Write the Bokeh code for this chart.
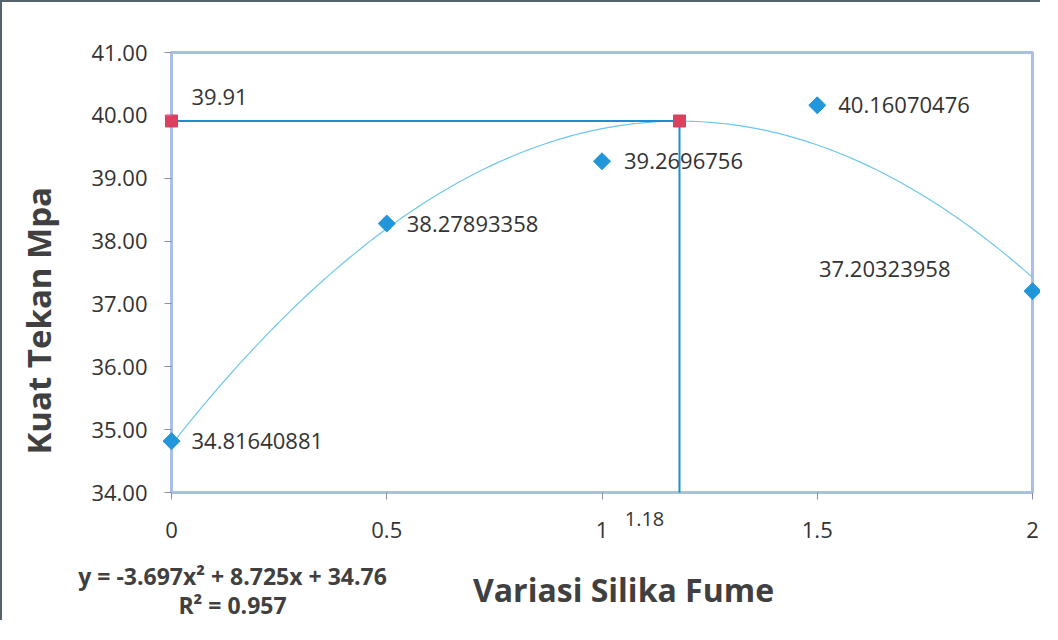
import numpy as np
from bokeh.plotting import figure
from bokeh.models import (Range1d, FixedTicker, PrintfTickFormatter, CustomJSTickFormatter,
                          ColumnDataSource, LabelSet, Label)
from bokeh.core.properties import value
from bokeh.embed import file_html
from bokeh.resources import INLINE

# ---- data ----
silika = [0, 0.5, 1, 1.5, 2]
kuat = [34.81640881, 38.27893358, 39.2696756, 40.16070476, 37.20323958]
kuat_labels = ["34.81640881", "38.27893358", "39.2696756", "40.16070476", "37.20323958"]
opt_x = [0, 1.18, 1.18]
opt_y = [39.91, 39.91, 34.0]
opt_marker_x = [0, 1.18]
opt_marker_y = [39.91, 39.91]
opt_labels = ["39.91", "1.18"]
coef = [-3.697, 8.725, 34.76]
x_ticks = [0, 0.5, 1, 1.5, 2]
y_ticks = [34, 35, 36, 37, 38, 39, 40, 41]
eq_text = "y = -3.697x\u00b2 + 8.725x + 34.76"
r2_text = "R\u00b2 = 0.957"
x_title = "Variasi Silika Fume"
y_title = "Kuat  Tekan Mpa"

FONT = "Open Sans"
TXT = "#333333"
TITLE = "#404040"

# ---- layout (pixels) ----
W, H = 1040, 620
BOX_L, BOX_R, BOX_T, BOX_B = 169, 1030, 50, 490
xs = (BOX_R - BOX_L) / (x_ticks[-1] - x_ticks[0])
ys = (BOX_B - BOX_T) / (y_ticks[-1] - y_ticks[0])
x_range = Range1d(x_ticks[0] - BOX_L / xs, x_ticks[-1] + (W - BOX_R) / xs)
y_range = Range1d(y_ticks[0] - (H - BOX_B) / ys, y_ticks[-1] + BOX_T / ys)

p = figure(width=W, height=H, output_backend="svg", toolbar_location=None,
           x_range=x_range, y_range=y_range,
           min_border=0)
p.title.visible = False
p.outline_line_color = None
p.grid.visible = False
p.background_fill_color = "white"
p.border_fill_color = "white"
p.styles = {"border-top": "2px solid #56626e", "border-left": "2px solid #56626e"}

# axes, pinned to the plot-area box
p.yaxis.fixed_location = x_ticks[0]
p.yaxis.ticker = FixedTicker(ticks=y_ticks)
p.yaxis.formatter = PrintfTickFormatter(format="%.2f")
p.yaxis.axis_line_color = None
p.yaxis.major_tick_out = 7
p.yaxis.major_tick_in = 0
p.yaxis.major_tick_line_color = "#8c8ca8"
p.yaxis.minor_tick_line_color = None
p.yaxis.major_label_standoff = 17

p.xaxis.fixed_location = y_ticks[0]
p.xaxis.ticker = FixedTicker(ticks=x_ticks)
p.xaxis.formatter = CustomJSTickFormatter(code="return tick.toString();")
p.xaxis.axis_line_color = None
p.xaxis.major_tick_out = 7
p.xaxis.major_tick_in = 0
p.xaxis.major_tick_line_color = "#8c8ca8"
p.xaxis.minor_tick_line_color = None
p.xaxis.major_label_standoff = 22

for ax in (p.xaxis, p.yaxis):
    ax.major_label_text_font = FONT
    ax.major_label_text_font_size = "22px"
    ax.major_label_text_color = TXT

# plot-area box
p.quad(left=[x_ticks[0]], right=[x_ticks[-1]], bottom=[y_ticks[0]], top=[y_ticks[-1]],
       fill_color=None, line_color="#a9bfe8", line_width=3)

# trendline from printed equation
xt = np.linspace(silika[0], silika[-1], 201)
yt = coef[0] * xt**2 + coef[1] * xt + coef[2]
p.line(xt, yt, line_color="#6cc6ee", line_width=1.2)

# optimum lines
p.line(opt_x, opt_y, line_color="#1b8fd2", line_width=2)
p.scatter(opt_marker_x, opt_marker_y, marker="square", size=12,
          fill_color="#d9415f", line_color="#d9415f")

# data points
p.scatter(silika, kuat, marker="square", angle=np.pi / 4, size=12,
          fill_color="#2196da", line_color="#2196da")

src = ColumnDataSource(dict(x=silika, y=kuat, t=kuat_labels,
                            xo=[20, 20, 22, 21, -82], yo=[0, 0, 0, 0, 22],
                            al=["left", "left", "left", "left", "right"]))
p.add_layout(LabelSet(x="x", y="y", text="t", source=src, x_offset="xo", y_offset="yo",
                      text_align="al", text_baseline="middle", text_font=value(FONT),
                      text_font_size="22px", text_color=TXT))

p.add_layout(Label(x=opt_marker_x[0], y=opt_marker_y[0], text=opt_labels[0], x_offset=20, y_offset=24,
                   text_align="left", text_baseline="middle", text_font=FONT,
                   text_font_size="22px", text_color=TXT))
p.add_layout(Label(x=opt_x[1], y=y_ticks[0], text=opt_labels[1], x_offset=-35, y_offset=-26,
                   text_align="center", text_baseline="middle", text_font=FONT,
                   text_font_size="20px", text_color=TXT))


def corner_label(text, dx, dy, size, bold=False, angle=0.0):
    # positioned in pixels from the lower-left corner of the plot-area box
    p.add_layout(Label(x=x_ticks[0], y=y_ticks[0], text=text, x_offset=dx, y_offset=dy,
                       angle=angle, text_align="center", text_baseline="middle",
                       text_font=FONT, text_font_style="bold" if bold else "normal",
                       text_font_size=size, text_color=TITLE if bold else TXT))


corner_label(y_title, -133, 176, "33px", bold=True, angle=np.pi / 2)
corner_label(x_title, 452, -97, "32px", bold=True)
corner_label(eq_text, 61, -83, "23px", bold=True)
corner_label(r2_text, 61, -112, "23px", bold=True)

open("out.html", "w").write(file_html(p, INLINE))
